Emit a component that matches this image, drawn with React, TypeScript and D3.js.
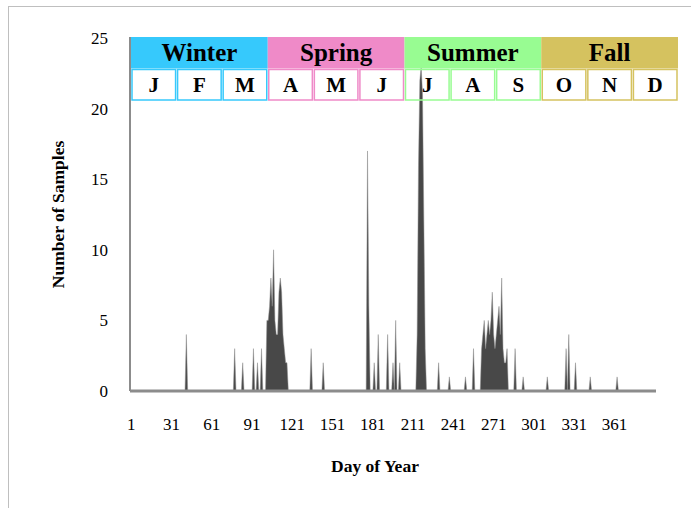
import React from "react";
import * as d3 from "d3";

// Nonzero daily sample counts (day of year -> number of samples)
const sampleDays = [
  42, 78, 84, 92, 95, 98,
  102, 103, 104, 105, 106, 107, 108, 109, 110, 111, 112, 113, 114, 115, 116, 117,
  135, 144,
  177, 178, 182, 185, 192, 196, 198, 201,
  214, 215, 216, 217, 218, 219, 220,
  230, 238, 250, 256,
  262, 263, 264, 265, 266, 267, 268, 269, 270, 271, 272, 273, 274, 275, 276, 277, 278, 279, 280, 281,
  287, 293, 311, 325, 327, 332, 343, 363,
];
const sampleCounts = [
  4, 3, 2, 3, 2, 3,
  5, 5, 6, 8, 6, 10, 5, 4, 4, 7, 8, 7, 4, 3, 2, 2,
  3, 2,
  17, 6, 2, 4, 4, 2, 5, 2,
  4, 16, 22, 23, 21, 12, 3,
  2, 1, 1, 3,
  3, 4, 5, 3, 4, 5, 4, 5, 7, 4, 3, 4, 5, 6, 4, 8, 3, 2, 2, 3,
  3, 1, 1, 3, 4, 2, 1, 1,
];
const lastDay = 392;

const dayTicks = [1, 31, 61, 91, 121, 151, 181, 211, 241, 271, 301, 331, 361];
const countTicks = [0, 5, 10, 15, 20, 25];

const seasons = ["Winter", "Spring", "Summer", "Fall"];
const seasonColors = ["#36c9fc", "#ef8ac8", "#98fc92", "#d5c25f"];
const months = ["J", "F", "M", "A", "M", "J", "J", "A", "S", "O", "N", "D"];

const W = 691;
const H = 508;
const plot = { left: 130, right: 656, top: 38, bottom: 391 };
const header = { left: 131, right: 678, top: 37, mid: 68.5, bottom: 101 };
const FONT = "'Liberation Serif', 'DejaVu Serif', serif";

export default function App() {
  const countByDay = new Map<number, number>();
  sampleDays.forEach((d, i) => countByDay.set(d, sampleCounts[i]));
  const series = d3.range(1, lastDay + 1).map((d) => ({ day: d, n: countByDay.get(d) ?? 0 }));

  const x = d3.scaleLinear().domain([0, lastDay]).range([plot.left, plot.right]);
  const y = d3.scaleLinear().domain([0, 25]).range([plot.bottom, plot.top]);

  const area = d3
    .area<{ day: number; n: number }>()
    .x((d) => x(d.day))
    .y0(y(0))
    .y1((d) => y(d.n))
    .curve(d3.curveLinear);

  const seasonBand = d3.scaleBand<number>().domain(d3.range(4)).range([header.left, header.right]);
  const monthBand = d3.scaleBand<number>().domain(d3.range(12)).range([header.left, header.right]);

  return (
    <svg
      width={W}
      height={H}
      style={{ position: "absolute", left: 0, top: 0, background: "#fff" }}
      fontFamily={FONT}
    >
      {/* outer chart frame */}
      <rect x={8.5} y={6.5} width={W + 20} height={H + 20} fill="#fff" stroke="#bfbfbf" strokeWidth={1} />

      {/* month box fills (under the data) */}
      {months.map((m, i) => (
        <rect
          key={"mf" + i}
          x={monthBand(i)! + 1}
          y={header.mid + 1}
          width={monthBand.bandwidth() - 2}
          height={header.bottom - header.mid - 2}
          fill="#fff"
        />
      ))}

      {/* data area */}
      <path d={area(series) ?? ""} fill="#484848" stroke="#8f8f8f" strokeWidth={0.5} strokeLinejoin="miter" />

      {/* axes */}
      <line x1={plot.left} x2={plot.left} y1={plot.top - 1} y2={plot.bottom} stroke="#8c8c8c" strokeWidth={2} />
      <line x1={plot.left} x2={plot.right} y1={plot.bottom} y2={plot.bottom} stroke="#8c8c8c" strokeWidth={3} />

      {/* season band */}
      {seasons.map((s, i) => (
        <g key={s}>
          <rect
            x={seasonBand(i)!}
            y={header.top}
            width={seasonBand.bandwidth()}
            height={header.mid - header.top}
            fill={seasonColors[i]}
          />
          <text
            x={seasonBand(i)! + seasonBand.bandwidth() / 2}
            y={(header.top + header.mid) / 2 + 8.5}
            textAnchor="middle"
            fontSize={25}
            fontWeight="bold"
            fill="#000"
          >
            {s}
          </text>
        </g>
      ))}

      {/* month boxes */}
      {months.map((m, i) => (
        <g key={"m" + i}>
          <rect
            x={monthBand(i)! + 1}
            y={header.mid + 1}
            width={monthBand.bandwidth() - 2}
            height={header.bottom - header.mid - 2}
            fill="none"
            stroke={seasonColors[Math.floor(i / 3)]}
            strokeWidth={1.5}
          />
          <text
            x={monthBand(i)! + monthBand.bandwidth() / 2}
            y={(header.mid + header.bottom) / 2 + 7}
            textAnchor="middle"
            fontSize={21}
            fontWeight="bold"
            fill="#000"
          >
            {m}
          </text>
        </g>
      ))}

      {/* y tick labels */}
      {countTicks.map((t) => (
        <text key={"y" + t} x={108} y={y(t) + 6} textAnchor="end" fontSize={17} fill="#000">
          {t}
        </text>
      ))}

      {/* x tick labels */}
      {dayTicks.map((t) => (
        <text key={"x" + t} x={x(t)} y={430} textAnchor="middle" fontSize={17} fill="#000">
          {t}
        </text>
      ))}

      {/* axis titles */}
      <text
        transform={`translate(64, ${(plot.top + plot.bottom) / 2}) rotate(-90)`}
        textAnchor="middle"
        fontSize={17.5}
        fontWeight="bold"
        fill="#000"
      >
        Number of Samples
      </text>
      <text x={375} y={472} textAnchor="middle" fontSize={17.5} fontWeight="bold" fill="#000">
        Day of Year
      </text>
    </svg>
  );
}
